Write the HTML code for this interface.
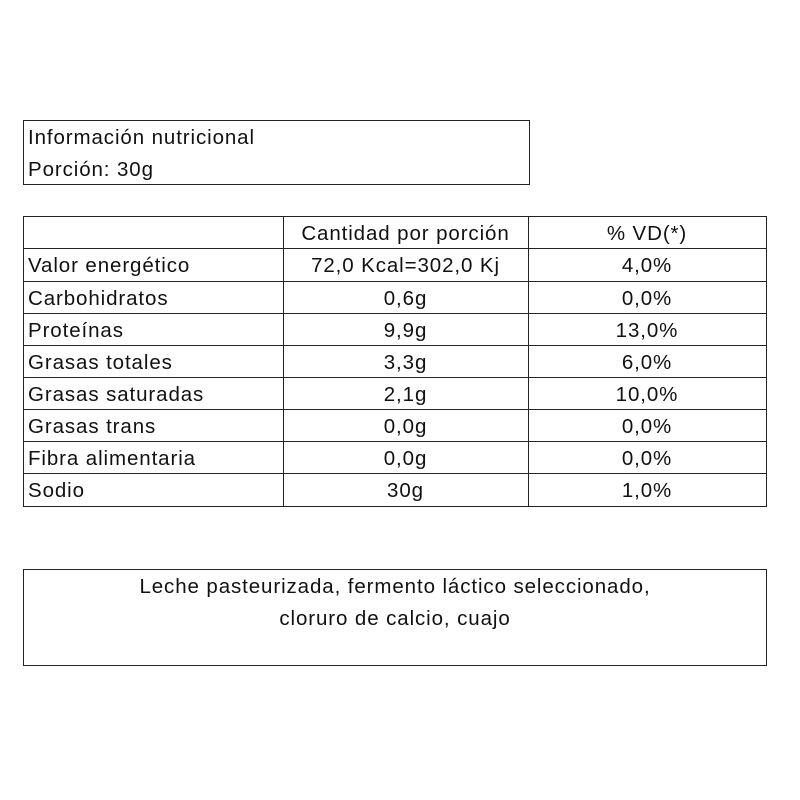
<!DOCTYPE html>
<html><head><meta charset="utf-8"><style>
body{margin:0;background:#fff;width:800px;height:800px;position:relative;overflow:hidden;font-family:"Liberation Sans",sans-serif;color:#111;font-size:20.5px;letter-spacing:0.9px}
.b{position:absolute;border:1.5px solid #222;box-sizing:border-box}
.h{position:absolute;height:0;border-top:1.5px solid #222}
.v{position:absolute;width:0;border-left:1.5px solid #222}
.t{position:absolute;white-space:nowrap;line-height:32px}
.c{text-align:center}
</style></head><body>
<div class="b" style="left:23px;top:120px;width:507px;height:65px"></div>
<div class="t" style="left:28px;top:122px">Información nutricional</div>
<div class="t" style="left:28px;top:154px">Porción: 30g</div>

<div class="b" style="left:23px;top:216px;width:744px;height:291px"></div>
<div class="v" style="left:283px;top:216px;height:290px"></div>
<div class="v" style="left:528px;top:216px;height:290px"></div>
<div class="h" style="left:23px;top:248px;width:744px"></div>
<div class="h" style="left:23px;top:281px;width:744px"></div>
<div class="h" style="left:23px;top:313px;width:744px"></div>
<div class="h" style="left:23px;top:345px;width:744px"></div>
<div class="h" style="left:23px;top:377px;width:744px"></div>
<div class="h" style="left:23px;top:409px;width:744px"></div>
<div class="h" style="left:23px;top:441px;width:744px"></div>
<div class="h" style="left:23px;top:473px;width:744px"></div>

<div class="t c" style="left:283px;width:245px;top:218px">Cantidad por porción</div>
<div class="t c" style="left:528px;width:238px;top:218px">% VD(*)</div>

<div class="t" style="left:28px;top:250px">Valor energético</div>
<div class="t c" style="left:283px;width:245px;top:250px">72,0 Kcal=302,0 Kj</div>
<div class="t c" style="left:528px;width:238px;top:250px">4,0%</div>

<div class="t" style="left:28px;top:283px">Carbohidratos</div>
<div class="t c" style="left:283px;width:245px;top:283px">0,6g</div>
<div class="t c" style="left:528px;width:238px;top:283px">0,0%</div>

<div class="t" style="left:28px;top:315px">Proteínas</div>
<div class="t c" style="left:283px;width:245px;top:315px">9,9g</div>
<div class="t c" style="left:528px;width:238px;top:315px">13,0%</div>

<div class="t" style="left:28px;top:347px">Grasas totales</div>
<div class="t c" style="left:283px;width:245px;top:347px">3,3g</div>
<div class="t c" style="left:528px;width:238px;top:347px">6,0%</div>

<div class="t" style="left:28px;top:379px">Grasas saturadas</div>
<div class="t c" style="left:283px;width:245px;top:379px">2,1g</div>
<div class="t c" style="left:528px;width:238px;top:379px">10,0%</div>

<div class="t" style="left:28px;top:411px">Grasas trans</div>
<div class="t c" style="left:283px;width:245px;top:411px">0,0g</div>
<div class="t c" style="left:528px;width:238px;top:411px">0,0%</div>

<div class="t" style="left:28px;top:443px">Fibra alimentaria</div>
<div class="t c" style="left:283px;width:245px;top:443px">0,0g</div>
<div class="t c" style="left:528px;width:238px;top:443px">0,0%</div>

<div class="t" style="left:28px;top:475px">Sodio</div>
<div class="t c" style="left:283px;width:245px;top:475px">30g</div>
<div class="t c" style="left:528px;width:238px;top:475px">1,0%</div>

<div class="b" style="left:23px;top:569px;width:744px;height:97px"></div>
<div class="t c" style="left:23px;width:744px;top:571px">Leche pasteurizada, fermento láctico seleccionado,</div>
<div class="t c" style="left:23px;width:744px;top:603px">cloruro de calcio, cuajo</div>
</body></html>
